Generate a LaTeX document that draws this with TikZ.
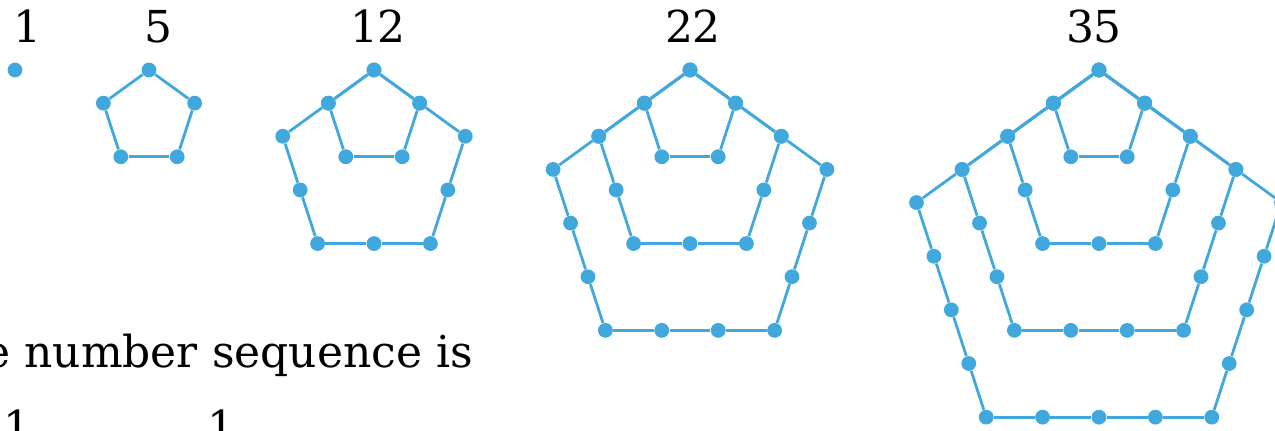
\documentclass[tikz,border=0pt]{standalone}
\usepackage{fontspec}
\setmainfont{DejaVu Serif}
\usepackage{tikz}
\definecolor{pentblue}{RGB}{65,168,221}
\tikzset{
  pentdot/.style={circle, fill=pentblue, inner sep=0pt, minimum size=7.4pt},
  pentline/.style={draw=pentblue, line width=1.4pt},
  numlabel/.style={anchor=base, inner sep=0pt, font=\fontsize{22}{26}\selectfont},
}
\begin{document}
\begin{tikzpicture}[x=0.5pt,y=-0.5pt]
\useasboundingbox (0,0) rectangle (1275,431);
\clip (0,0) rectangle (1275,431);

% counts above the figures
\node[numlabel] (lab1) at (27,43) {1};
\node[numlabel] (lab5) at (158,43) {5};
\node[numlabel] (lab12) at (378,43) {12};
\node[numlabel] (lab22) at (693,43) {22};
\node[numlabel] (lab35) at (1094,43) {35};

% first figure: single dot
\node[pentdot] (f1-apex) at (15,70) {};

% nested pentagons, one ring per side length
\foreach \n/\ax in {2/149, 3/374, 4/690, 5/1099}{
  \pgfmathtruncatemacro\last{\n-1}
  \foreach \k in {1,...,\last}{
    \pgfmathtruncatemacro\m{5*\k-1}
    \node[pentdot] (f\n-\k-0) at (\ax,70) {};
    \foreach \i in {1,...,\m}{
      \pgfmathtruncatemacro\prev{\i-1}
      \pgfmathsetmacro\ang{36+72*int((\i-1)/\k)}
      \node[pentdot] (f\n-\k-\i) at ([shift={(\ang:56.4)}] f\n-\k-\prev) {};
    }
    \foreach \i in {0,...,\m}{
      \pgfmathtruncatemacro\nxt{mod(\i+1,5*\k)}
      \draw[pentline] (f\n-\k-\i) -- (f\n-\k-\nxt);
    }
  }
}

% text below, cut by the frame
\node[numlabel, anchor=base west] (caption) at (-16,368) {e number sequence is};
\node[numlabel] (frac1) at (17,443) {1};
\node[numlabel] (frac2) at (221,443) {1};

\end{tikzpicture}
\end{document}
